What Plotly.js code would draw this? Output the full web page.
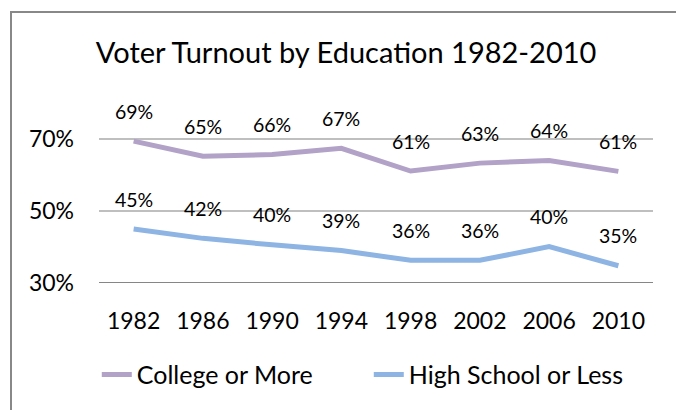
<!DOCTYPE html>
<html><head><meta charset="utf-8">
<script src="https://cdn.plot.ly/plotly-3.0.1.min.js"></script>
<style>html,body{margin:0;padding:0;background:#fff;overflow:hidden}
#wrap{position:relative;width:676px;height:410px;overflow:hidden}
#c{width:676px;height:410px}
#frame{position:absolute;left:10px;top:11px;width:1000px;height:1000px;border-left:2px solid #888;border-top:2px solid #888;pointer-events:none}
</style>
</head><body><div id="wrap"><div id="c"></div><div id="frame"></div></div>
<script>
var years = ["1982","1986","1990","1994","1998","2002","2006","2010"];
var college = [69.4, 65.2, 65.7, 67.4, 61.1, 63.3, 64.0, 61.0];
var highSchool = [45.0, 42.4, 40.6, 39.0, 36.3, 36.3, 40.1, 34.8];
var collegeLabels = ["69%","65%","66%","67%","61%","63%","64%","61%"];
var highSchoolLabels = ["45%","42%","40%","39%","36%","36%","40%","35%"];
var yTicks = [30, 50, 70];
var yTickText = ["30%","50%","70%"];

var FONT = "Lato, 'Open Sans', sans-serif";
var traces = [
  {x: years, y: college, name: "College or More", type: "scatter", mode: "lines",
   line: {color: "#b2a2c7", width: 5}},
  {x: years, y: highSchool, name: "High School or Less", type: "scatter", mode: "lines",
   line: {color: "#8db4e2", width: 5}}
];
var ann = [];
function addLabels(vals, labels) {
  for (var i = 0; i < years.length; i++) {
    ann.push({x: i, y: vals[i], text: labels[i], showarrow: false,
      xref: "x", yref: "y", xanchor: "center", yanchor: "middle", yshift: 30,
      font: {family: FONT, size: 19.5, color: "#000"}});
  }
}
addLabels(college, collegeLabels);
addLabels(highSchool, highSchoolLabels);

var layout = {
  width: 676, height: 410,
  margin: {l: 99, r: 23, t: 103, b: 127},
  paper_bgcolor: "#fff", plot_bgcolor: "#fff",
  title: {text: "Voter Turnout by Education 1982-2010", xref: "container", yref: "container",
    x: 0.512, xanchor: "center", y: 0.871, yanchor: "middle",
    font: {family: FONT, size: 29, color: "#000"}},
  xaxis: {type: "category", range: [-0.5, 7.5], showgrid: false, zeroline: false,
    showline: false, ticks: "", ticklabelstandoff: 22,
    tickfont: {family: FONT, size: 23, color: "#000"}},
  yaxis: {range: [30, 80], tickvals: yTicks, ticktext: yTickText, showgrid: true,
    gridcolor: "#bfbfbf", gridwidth: 2, zeroline: false, showline: false, ticks: "",
    ticklabelstandoff: 24, tickfont: {family: FONT, size: 23, color: "#000"}},
  showlegend: true,
  legend: {orientation: "h", x: -0.004, xanchor: "left", y: -0.51, yanchor: "middle",
    entrywidth: 227, entrywidthmode: "pixels",
    font: {family: FONT, size: 25, color: "#000"}, bgcolor: "rgba(0,0,0,0)"},
  annotations: ann,
  shapes: [
    {type: "line", xref: "paper", yref: "y", x0: 0, x1: 1, y0: 30, y1: 30,
     line: {color: "#868686", width: 2}, layer: "above"}
  ]
};
Plotly.newPlot("c", traces, layout, {displayModeBar: false, staticPlot: true});
</script>
</body></html>
